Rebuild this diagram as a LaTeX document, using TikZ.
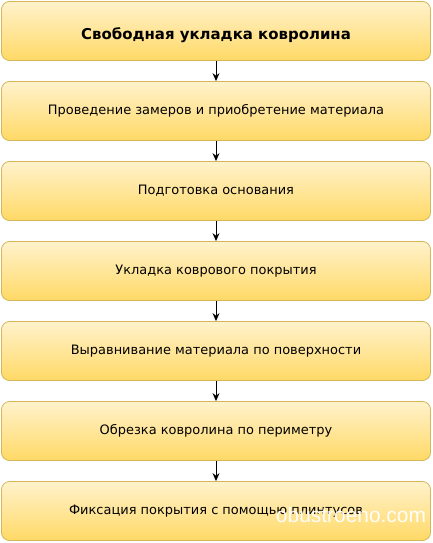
\documentclass[tikz,border=0pt]{standalone}
\usepackage{fontspec}
\usepackage{xcolor}
\setmainfont{DejaVu Sans}
\newfontfamily\wmfont{Liberation Sans}
\usetikzlibrary{arrows.meta,positioning}
\definecolor{boxtop}{HTML}{FFF2CC}
\definecolor{boxbottom}{HTML}{FFD966}
\definecolor{boxline}{HTML}{D6B656}
\tikzset{
  basenode/.style = {align=center, inner sep=4pt, text centered},
  step_node/.style = {basenode, rectangle, rounded corners=8bp, draw=boxline, line width=0.8bp,
                      top color=boxtop, bottom color=boxbottom,
                      minimum width=429bp, minimum height=59bp,
                      font=\fontsize{13}{15}\selectfont},
  title_node/.style = {step_node, font=\fontsize{15}{18}\selectfont\bfseries,
                       text height=20bp, text depth=3.5bp},
  flow_arrow/.style = {-{Stealth[length=8bp,width=7bp]}, line width=0.9bp, black},
}

\begin{document}
\begin{tikzpicture}[x=1bp,y=-1bp,node distance=20.2bp]
    \useasboundingbox (0,0) rectangle (433,543);
    \node [title_node] (s0) at (216,31) {Свободная укладка ковролина};
    \node [step_node, below=of s0] (s1) {Проведение замеров и приобретение материала};
    \node [step_node, below=of s1] (s2) {Подготовка основания};
    \node [step_node, below=of s2] (s3) {Укладка коврового покрытия};
    \node [step_node, below=of s3] (s4) {Выравнивание материала по поверхности};
    \node [step_node, below=of s4] (s5) {Обрезка ковролина по периметру};
    \node [step_node, below=of s5] (s6) {Фиксация покрытия с помощью плинтусов};

    \draw [flow_arrow] (s0) -- (s1);
    \draw [flow_arrow] (s1) -- (s2);
    \draw [flow_arrow] (s2) -- (s3);
    \draw [flow_arrow] (s3) -- (s4);
    \draw [flow_arrow] (s4) -- (s5);
    \draw [flow_arrow] (s5) -- (s6);

    % watermark
    \node [white, opacity=0.95, font=\wmfont\fontsize{21}{24}\selectfont, inner sep=0pt] (wm) at (351,515) {obustroeno.com};
\end{tikzpicture}
\end{document}
